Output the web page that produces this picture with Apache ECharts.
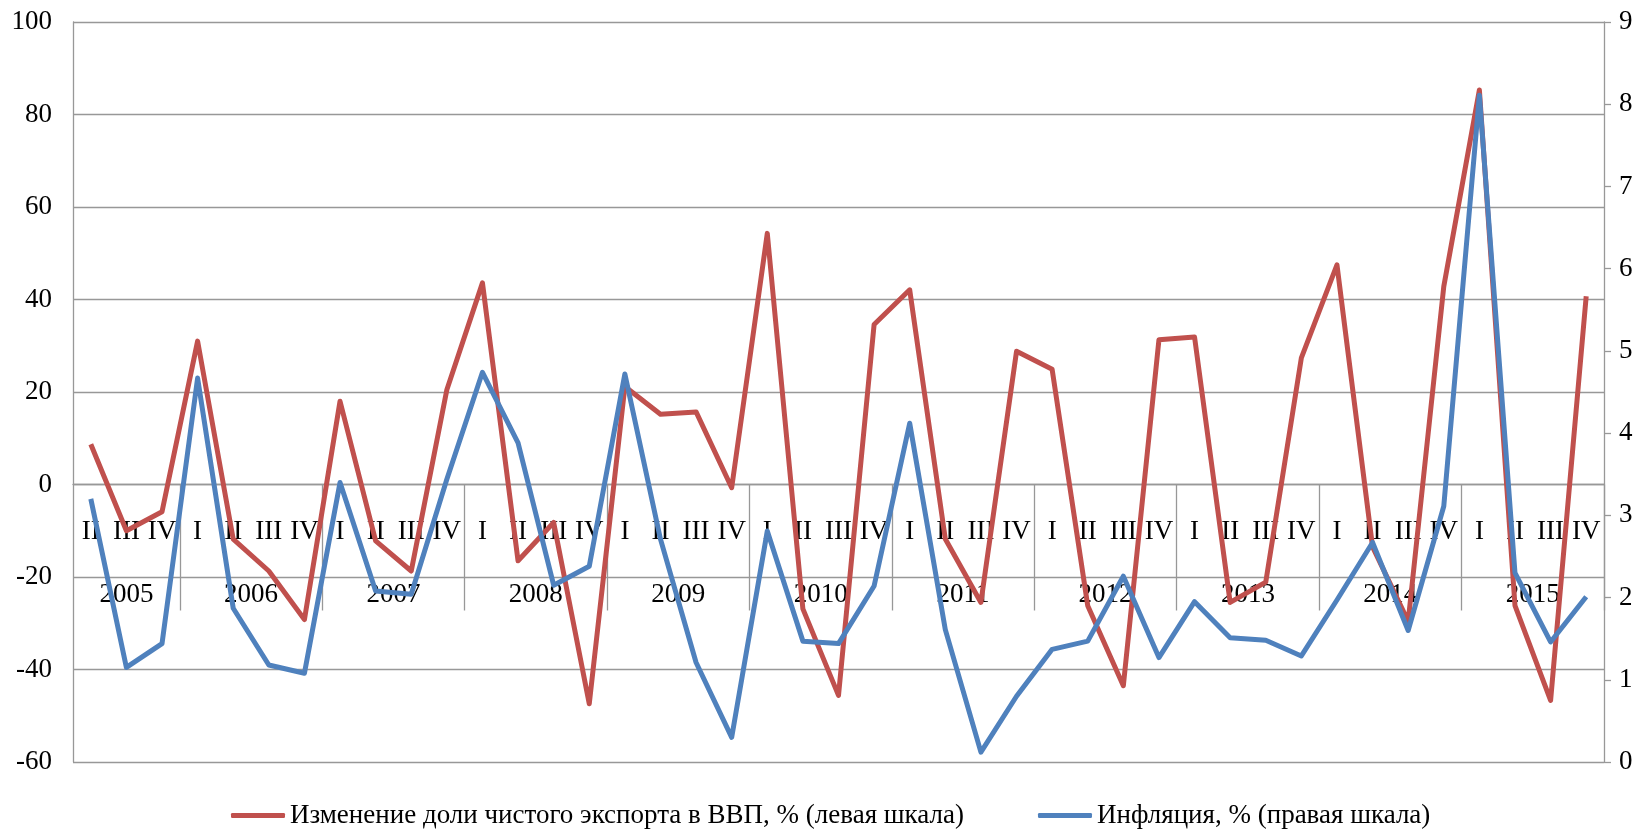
<!DOCTYPE html>
<html>
<head>
<meta charset="utf-8">
<title>Чистый экспорт и инфляция</title>
<script src="https://cdn.jsdelivr.net/npm/echarts@6/dist/echarts.min.js"></script>
<style>
	html,body{margin:0;padding:0;background:#fff;}
	#chart{width:1644px;height:830px;}
</style>
</head>
<body>
<div id="chart"></div>
<script>
// кварталы: 2005 начинается со II квартала
var quarters=['II','III','IV',
	'I','II','III','IV','I','II','III','IV','I','II','III','IV',
	'I','II','III','IV','I','II','III','IV','I','II','III','IV',
	'I','II','III','IV','I','II','III','IV','I','II','III','IV',
	'I','II','III','IV'];
var years=['2005','2006','2007','2008','2009','2010','2011','2012','2013','2014','2015'];
var leftTicks=[-60,-40,-20,0,20,40,60,80,100];
var rightTicks=[0,1,2,3,4,5,6,7,8,9];

// изменение доли чистого экспорта в ВВП, % (левая шкала)
var netExport=[8.7,-10.0,-5.9,
	31.0,-11.8,-18.7,-29.2,
	18.0,-12.2,-18.7,20.5,
	43.6,-16.5,-8.2,-47.4,
	21.2,15.2,15.7,-0.7,
	54.3,-26.9,-45.6,34.6,
	42.1,-11.8,-25.5,28.8,
	24.9,-26.2,-43.5,31.3,
	31.9,-25.5,-21.1,27.4,
	47.5,-13.5,-29.6,42.8,
	85.3,-26.2,-46.7,40.7];
// инфляция, % (правая шкала)
var inflation=[3.2,1.15,1.44,
	4.67,1.87,1.18,1.08,
	3.40,2.08,2.04,3.44,
	4.74,3.88,2.15,2.38,
	4.72,2.71,1.21,0.30,
	2.81,1.47,1.44,2.14,
	4.12,1.61,0.12,0.80,
	1.37,1.47,2.26,1.27,
	1.95,1.51,1.48,1.29,
	1.97,2.67,1.60,3.11,
	8.11,2.30,1.46,2.01];

var FONT="'Liberation Serif','Times New Roman',serif";
var FONT_SIZE=27;
var GRID_COLOR='#989898';

var W=1644,H=830;
var GRID={left:73,right:40,top:22,bottom:68};
var plotH=H-GRID.top-GRID.bottom;
var catW=(W-GRID.left-GRID.right)/quarters.length;
// ось категорий проходит через 0 левой шкалы
var zeroShift=-plotH*(0-leftTicks[0])/(leftTicks[leftTicks.length-1]-leftTicks[0]);

// для каждого квартала - его год; индекс подписи года и длина года
var quarterYear=[];
var yearStart={};
var yearLen={};
(function(){
	var y=-1;
	for(var i=0;i<quarters.length;i++){
		if(i==0||quarters[i]=='I'){
			y++;
			yearStart[i]=true;
		}
		quarterYear.push(years[y]);
		yearLen[years[y]]=(yearLen[years[y]]||0)+1;
	}
})();
var yearLabelIdx={};
(function(){
	var seen={};
	for(var i=0;i<quarterYear.length;i++){
		var yr=quarterYear[i];
		if(seen[yr]==null){
			seen[yr]=i;
			yearLabelIdx[i+Math.floor((yearLen[yr]-1)/2)]=yr;
		}
	}
})();

var chart=echarts.init(document.getElementById('chart'),null,{renderer:'canvas'});
var option={
	animation:false,
	backgroundColor:'#fff',
	textStyle:{fontFamily:FONT},
	grid:{left:GRID.left,right:GRID.right,top:GRID.top,bottom:GRID.bottom,containLabel:false,outerBoundsMode:'none'},
	legend:{
		left:231,
		top:802,
		padding:0,
		icon:'roundRect',
		itemWidth:54,
		itemHeight:5,
		itemGap:74,
		textStyle:{fontFamily:FONT,fontSize:FONT_SIZE,color:'#000'},
		data:['Изменение доли чистого экспорта в ВВП, % (левая шкала)','Инфляция, % (правая шкала)']
	},
	xAxis:[
		{
			type:'category',
			data:quarters,
			boundaryGap:true,
			position:'bottom',
			offset:zeroShift,
			axisLine:{show:true,onZero:false,lineStyle:{color:GRID_COLOR,width:1.3}},
			axisTick:{show:false},
			axisLabel:{interval:0,margin:34,fontFamily:FONT,fontSize:FONT_SIZE,color:'#000'},
			splitLine:{show:false}
		},
		{
			type:'category',
			data:quarterYear,
			boundaryGap:true,
			position:'bottom',
			offset:zeroShift,
			axisLine:{show:false,onZero:false},
			axisTick:{
				show:true,
				inside:false,
				length:126,
				interval:function(index){return index>0&&yearStart[index]===true;},
				lineStyle:{color:GRID_COLOR,width:1.3}
			},
			axisLabel:{
				show:true,
				margin:97,
				interval:function(index){return yearLabelIdx[index]!=null;},
				fontFamily:FONT,fontSize:FONT_SIZE,color:'#000',
				formatter:function(value){
					// у года из 4 кварталов середина лежит на границе - сдвигаем на полкатегории
					if(yearLen[value]%2==0){return '{s|'+value+'}';}
					return '{c|'+value+'}';
				},
				rich:{
					s:{fontFamily:FONT,fontSize:FONT_SIZE,color:'#000',padding:[0,0,0,catW]},
					c:{fontFamily:FONT,fontSize:FONT_SIZE,color:'#000'}
				}
			},
			splitLine:{show:false}
		}
	],
	yAxis:[
		{
			type:'value',
			min:leftTicks[0],
			max:leftTicks[leftTicks.length-1],
			interval:leftTicks[1]-leftTicks[0],
			position:'left',
			axisLine:{show:true,onZero:false,lineStyle:{color:GRID_COLOR,width:1.3}},
			axisTick:{show:false},
			axisLabel:{margin:21,fontFamily:FONT,fontSize:FONT_SIZE,color:'#000'},
			splitLine:{show:true,lineStyle:{color:GRID_COLOR,width:1.3}}
		},
		{
			type:'value',
			min:rightTicks[0],
			max:rightTicks[rightTicks.length-1],
			interval:rightTicks[1]-rightTicks[0],
			position:'right',
			axisLine:{show:true,onZero:false,lineStyle:{color:GRID_COLOR,width:1.3}},
			axisTick:{show:true,inside:false,length:7,lineStyle:{color:GRID_COLOR,width:1.3}},
			axisLabel:{margin:15,fontFamily:FONT,fontSize:FONT_SIZE,color:'#000'},
			splitLine:{show:false}
		}
	],
	series:[
		{
			name:'Изменение доли чистого экспорта в ВВП, % (левая шкала)',
			type:'line',
			xAxisIndex:0,
			yAxisIndex:0,
			data:netExport,
			symbol:'none',
			color:'#C0504D',
			lineStyle:{color:'#C0504D',width:5,join:'round'}
		},
		{
			name:'Инфляция, % (правая шкала)',
			type:'line',
			xAxisIndex:0,
			yAxisIndex:1,
			data:inflation,
			symbol:'none',
			color:'#4F81BD',
			lineStyle:{color:'#4F81BD',width:5,join:'round'}
		}
	]
};
chart.setOption(option,true);
</script>
</body>
</html>
